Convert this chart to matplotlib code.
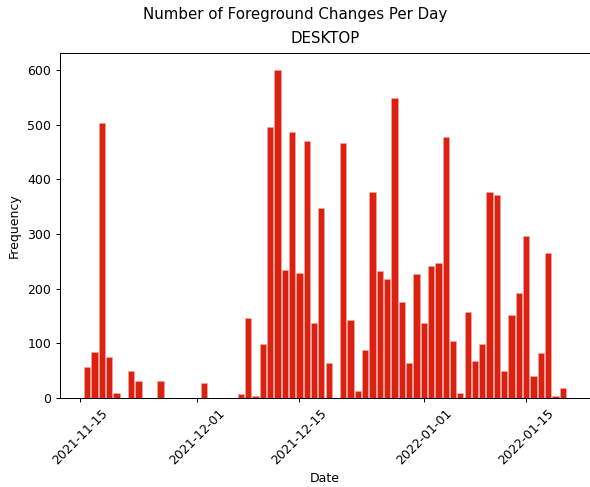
import numpy as np
import pandas as pd
import matplotlib
matplotlib.use("Agg")
import matplotlib.pyplot as plt
import matplotlib.dates as mdates

# daily counts of foreground changes (desktop)
dates = [
    "2021-11-16", "2021-11-17", "2021-11-18", "2021-11-19", "2021-11-20",
    "2021-11-22", "2021-11-23", "2021-11-26", "2021-12-02", "2021-12-07",
    "2021-12-08", "2021-12-09", "2021-12-10", "2021-12-11", "2021-12-12",
    "2021-12-13", "2021-12-14", "2021-12-15", "2021-12-16", "2021-12-17",
    "2021-12-18", "2021-12-19", "2021-12-21", "2021-12-22", "2021-12-23",
    "2021-12-24", "2021-12-25", "2021-12-26", "2021-12-27", "2021-12-28",
    "2021-12-29", "2021-12-30", "2021-12-31", "2022-01-01", "2022-01-02",
    "2022-01-03", "2022-01-04", "2022-01-05", "2022-01-06", "2022-01-07",
    "2022-01-08", "2022-01-09", "2022-01-10", "2022-01-11", "2022-01-12",
    "2022-01-13", "2022-01-14", "2022-01-15", "2022-01-16", "2022-01-17",
    "2022-01-18", "2022-01-19", "2022-01-20",
]
counts = [
    56, 83, 504, 74, 9,
    48, 30, 30, 26, 7,
    146, 3, 98, 496, 601,
    234, 487, 229, 471, 137,
    348, 63, 466, 143, 12,
    88, 377, 232, 218, 549,
    176, 63, 227, 137, 241,
    246, 478, 104, 9, 157,
    67, 99, 377, 371, 49,
    151, 192, 297, 39, 81,
    266, 3, 18,
]

df = pd.DataFrame({"date": pd.to_datetime(dates), "count": counts})

dpi = 90
plt.rcParams["font.size"] = 10
fig, ax = plt.subplots(figsize=(590 / dpi, 487 / dpi), dpi=dpi)
fig.subplots_adjust(left=0.1017, right=1.0, bottom=0.1834, top=0.8906)

ax.bar(df["date"], df["count"], width=0.86, color="#dd2111", edgecolor="#f4b0a8", linewidth=0.4)

ax.xaxis.set_major_formatter(mdates.DateFormatter("%Y-%m-%d"))
plt.setp(ax.get_xticklabels(), rotation=45)
ax.set_xlabel("Date")
ax.set_ylabel("Frequency", labelpad=5)
ax.set_title("DESKTOP", pad=8.5)
fig.suptitle("Number of Foreground Changes Per Day", y=0.985)

fig.savefig("out.png", dpi=dpi)
